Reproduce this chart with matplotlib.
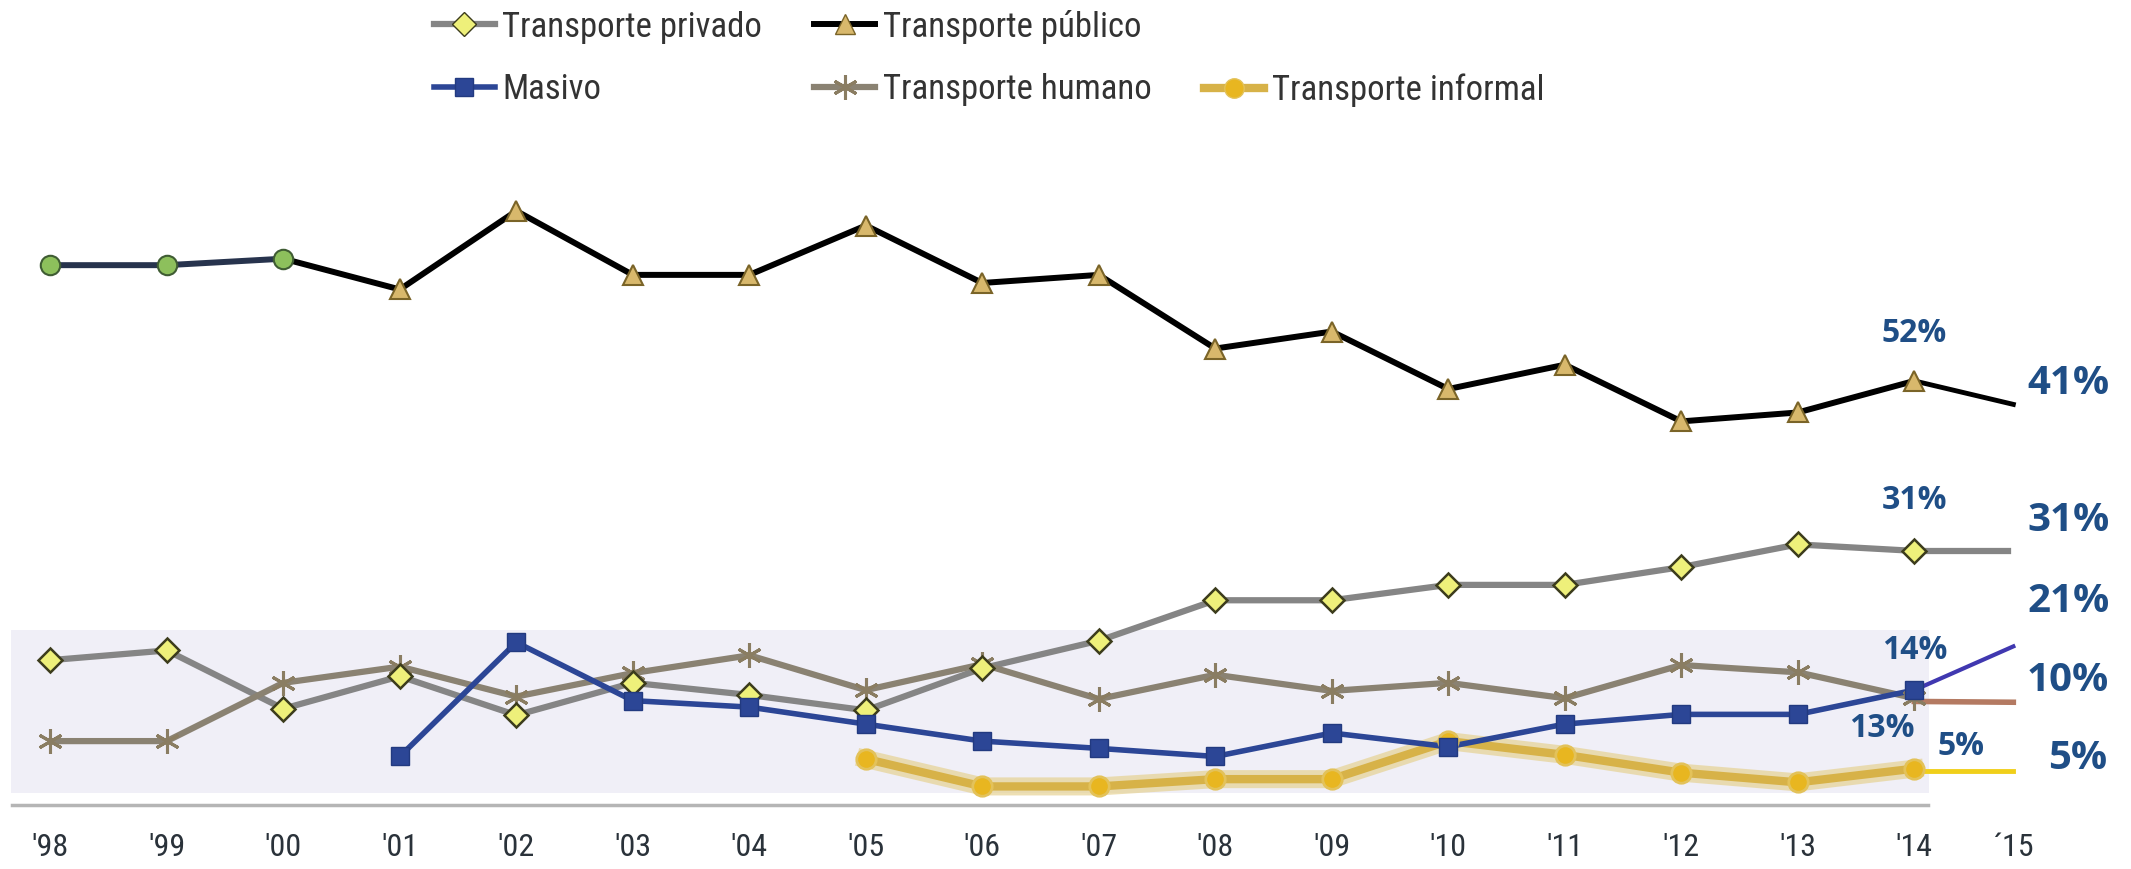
import numpy as np
import matplotlib.pyplot as plt
from matplotlib import font_manager
from matplotlib.lines import Line2D
import matplotlib.patheffects as pe

years = ["'98", "'99", "'00", "'01", "'02", "'03", "'04", "'05", "'06",
         "'07", "'08", "'09", "'10", "'11", "'12", "'13", "'14", "´15"]

nan = np.nan
# values (%), '98 .. '14
publico = [66.3, 66.3, 67.1, 63.3, 73.0, 65.1, 65.1, 71.2, 64.1,
           65.1, 56.0, 58.1, 51.0, 54.0, 47.0, 48.1, 52.0]
privado = [17.5, 18.7, 11.5, 15.5, 10.7, 14.7, 13.2, 11.3, 16.5,
           19.9, 24.9, 24.9, 26.8, 26.8, 29.0, 31.8, 31.0]
masivo = [nan, nan, nan, 5.6, 19.7, 12.5, 11.7, 9.6, 7.5,
          6.6, 5.6, 8.5, 6.8, 9.6, 10.8, 10.8, 13.8]
humano = [7.5, 7.5, 14.7, 16.7, 13.0, 15.9, 18.1, 13.8, 17.0,
          12.7, 15.7, 13.7, 14.7, 12.8, 16.9, 16.0, 12.8]
informal = [nan, nan, nan, nan, nan, nan, nan, 5.3, 1.9,
            1.9, 2.8, 2.8, 7.5, 5.8, 3.6, 2.4, 4.1]

# hand drawn '15 extension ends
ext_15 = {"publico": 49.1, "privado": 31.0, "masivo": 19.2,
          "humano": 12.3, "informal": 3.8}

labels_14 = ["52%", "31%", "14%", "13%", "5%"]
labels_15 = ["41%", "31%", "21%", "10%", "5%"]

names = {f.name for f in font_manager.fontManager.ttflist}
narrow = "DejaVu Sans"
for cand in ["Liberation Sans Narrow", "Roboto Condensed", "Open Sans Condensed",
             "Noto Sans Display", "Roboto"]:
    if cand in names:
        narrow = cand
        break
pct_font = "Open Sans" if "Open Sans" in names else "DejaVu Sans"

x = np.arange(len(publico))
x15 = 16.85   # the '15 column sits a bit closer than a full step

fig = plt.figure(figsize=(21.31, 8.69), dpi=100)
ax = fig.add_axes([0, 0.0736, 1, 0.9264])
ax.set_xlim(-0.432, 17.86)
ax.set_ylim(-0.4, 99.06)

# faint background band behind the lower series
ax.axhspan(1.1, 21.2, xmin=0.005, xmax=0.905, color='#f0eff7', zorder=0, lw=0)

# transporte privado
ax.plot(x, privado, color='#858585', lw=4.5, zorder=3)
ax.plot(x, privado, ls='none', marker='D', ms=12, mfc='#eef07a', mec='#3c3c1c', mew=1.8, zorder=6)
ax.plot([x[-1], x15 - 0.05], [privado[-1], ext_15["privado"]], color='#858585', lw=4.5, zorder=3)

# transporte humano
ax.plot(x, humano, color='#8a8272', lw=4.5, zorder=3)
ax.plot(x, humano, ls='none', marker=(6, 2, 0), ms=18, mec='#8a7d62', mew=2.2, zorder=5)
ax.plot([x[-1], x15], [humano[-1] - 0.4, ext_15["humano"]], color='#b47a62', lw=4, zorder=3)

# masivo
ax.plot(x, masivo, color='#2c4696', lw=4, zorder=4)
ax.plot(x, masivo, ls='none', marker='s', ms=13, mfc='#2c4696', mec='#223a80', zorder=6)
ax.plot([x[-1], x15], [masivo[-1], ext_15["masivo"]], color='#4038b0', lw=3, zorder=4)

# transporte informal
glow = [pe.Stroke(linewidth=13, foreground='#e6d293', alpha=0.7), pe.Normal()]
ax.plot(x, informal, color='#d7b248', lw=6, zorder=2, path_effects=glow)
ax.plot(x, informal, ls='none', marker='o', ms=14, mfc='#e8b620', mec='#e3c25a', mew=2, zorder=5)
ax.plot([x[-1] + 0.1, x15], [ext_15["informal"], ext_15["informal"]], color='#f0cf1a', lw=3.5, zorder=2)

# transporte publico
ax.plot(x[2:], publico[2:], color='black', lw=4.3, zorder=3)
ax.plot(x[:3], publico[:3], color='#27334d', lw=4.3, zorder=3)
ax.plot(x[:3], publico[:3], ls='none', marker='o', ms=14, mfc='#8dc05c', mec='#3f5c33', mew=1.5, zorder=6)
ax.plot(x[3:], publico[3:], ls='none', marker='^', ms=15, mfc='#d8b86c', mec='#7a6428', mew=1.5, zorder=6)
ax.plot([x[-1], x15], [publico[-1], ext_15["publico"]], color='black', lw=3.5, zorder=3)

# percentage labels
pct_color = '#1f4e86'
pos_14 = [(16.0, 57.9), (16.0, 37.2), (16.0, 18.7), (15.72, 9.1), (16.4, 6.8)]
for t, (px, py) in zip(labels_14, pos_14):
    ax.text(px, py, t, ha='center', va='center', fontsize=23, fontweight='bold',
            color=pct_color, family=pct_font)
pos_15 = [51.7, 34.7, 24.8, 15.0, 5.3]
for t, py in zip(labels_15, pos_15):
    ax.text(17.32 if t != "5%" else 17.4, py, t, ha='center', va='center', fontsize=29,
            fontweight='bold', color=pct_color, family=pct_font)

# axes
for s in ['top', 'left', 'right']:
    ax.spines[s].set_visible(False)
ax.spines['bottom'].set_color('#b5b5b5')
ax.spines['bottom'].set_linewidth(2.5)
ax.spines['bottom'].set_bounds(-0.33, 16.12)
ax.set_yticks([])
ax.set_xticks(list(x) + [x15])
ax.set_xticklabels(years, fontsize=23, color='#2a323a', family=narrow)
ax.tick_params(axis='x', length=0, pad=20)

# legend
h_priv = Line2D([], [], color='#858585', lw=4.5, marker='D', ms=12, mfc='#eef07a', mec='#3c3c1c')
h_pub = Line2D([], [], color='black', lw=4.3, marker='^', ms=15, mfc='#d8b86c', mec='#7a6428')
h_mas = Line2D([], [], color='#2c4696', lw=4, marker='s', ms=13, mfc='#2c4696', mec='#223a80')
h_hum = Line2D([], [], color='#8a8272', lw=4.5, marker=(6, 2, 0), ms=18, mec='#8a7d62', mew=2.2)
h_inf = Line2D([], [], color='#d7b248', lw=6, marker='o', ms=14, mfc='#e8b620', mec='#e3c25a')
h_blank = Line2D([], [], color='none')
leg = fig.legend([h_priv, h_mas, h_pub, h_hum, h_blank, h_inf],
                 ["Transporte privado", "Masivo", "Transporte público",
                  "Transporte humano", "", "Transporte informal"],
                 ncol=3, loc='upper left', bbox_to_anchor=(0.1955, 1.009),
                 frameon=False, handlelength=1.75, handletextpad=0.22,
                 columnspacing=1.5, labelspacing=0.86, borderpad=0.0,
                 prop={'family': narrow, 'size': 25})
for t in leg.get_texts():
    t.set_color('#333333')

fig.savefig("out.png", dpi=100)
